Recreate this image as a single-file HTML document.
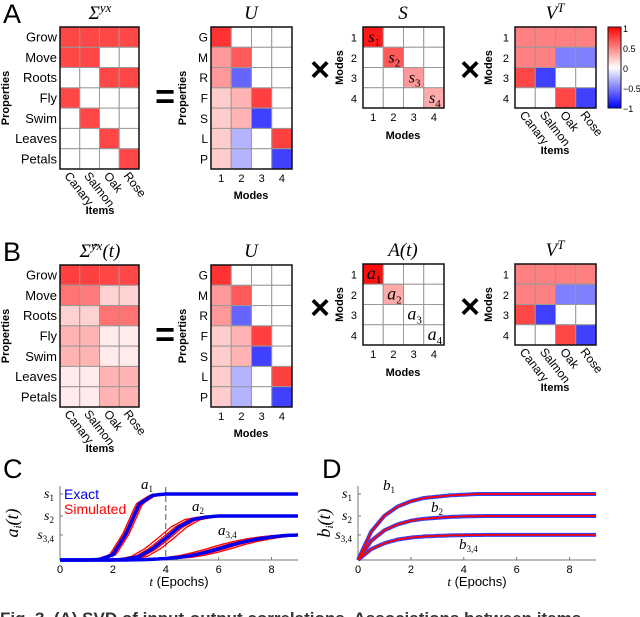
<!DOCTYPE html>
<html><head><meta charset="utf-8">
<style>
html,body{margin:0;padding:0;background:#fff;}
svg{display:block;font-family:"Liberation Sans",sans-serif;}
.ser{font-family:"Liberation Serif",serif;font-style:italic;}
</style></head>
<body>
<svg id="fig" width="640" height="617" viewBox="0 0 640 617" xmlns="http://www.w3.org/2000/svg"></svg>
<script>
// ---------- data ----------
const items = ["Canary","Salmon","Oak","Rose"];
const props = ["Grow","Move","Roots","Fly","Swim","Leaves","Petals"];
const propShort = ["G","M","R","F","S","L","P"];
const modes = ["1","2","3","4"];
const sigmaA = [[.72,.72,.72,.72],[.72,.72,0,0],[0,0,.72,.72],[.72,0,0,0],[0,.72,0,0],[0,0,.72,0],[0,0,0,.72]];
const uMat = [[.8,0,0,0],[.4,.65,0,0],[.4,-.6,0,0],[.2,.3,.75,0],[.2,.3,-.75,0],[.2,-.3,0,.75],[.2,-.3,0,-.75]];
const sDiag = [.9,.65,.4,.33];
const vMat = [[.5,.5,.5,.5],[.5,.5,-.5,-.5],[.72,-.75,0,0],[0,0,.72,-.75]];
const sigmaB = [[.75,.75,.72,.72],[.55,.52,.18,.18],[.18,.18,.55,.55],[.3,.3,.08,.08],[.3,.3,.08,.08],[.08,.08,.3,.3],[.08,.08,.3,.3]];
const aDiag = [.95,.33,0,0];
const cbTicks = ["1","0.5","0","\u22120.5","\u22121"];
// curves (t = 0..9 step 0.5)
const tVals = [0,.5,1,1.5,2,2.5,3,3.5,4,4.5,5,5.5,6,6.5,7,7.5,8,8.5,9];
const levelVals = [1,0.667,0.38];
const a1 = [0,0,0,.01,.08,.4,.85,.98,1,1,1,1,1,1,1,1,1,1,1];
const a2 = [0,0,0,0,0,.013,.055,.17,.33,.5,.61,.65,.667,.667,.667,.667,.667,.667,.667];
const a34 = [0,0,0,0,0,0,.004,.011,.023,.04,.07,.115,.17,.23,.28,.32,.35,.37,.38];
const b1 = [0,.43,.67,.81,.89,.94,.96,.98,.99,1,1,1,1,1,1,1,1,1,1];
const b2 = [0,.29,.45,.54,.595,.625,.64,.653,.66,.665,.667,.667,.667,.667,.667,.667,.667,.667,.667];
const b34 = [0,.165,.255,.31,.34,.357,.366,.372,.376,.379,.38,.38,.38,.38,.38,.38,.38,.38,.38];
const simShifts = [-0.3,-0.15,-0.05,0.05,0.15,0.3];
const simSpread = [0.4,1.0,1.5];
const xTicks = [0,2,4,6,8];

// ---------- helpers ----------
const NS="http://www.w3.org/2000/svg";
const svg=document.getElementById('fig');
function mk(tag,attrs,parent){const e=document.createElementNS(NS,tag);for(const k in attrs)e.setAttribute(k,attrs[k]);(parent||svg).appendChild(e);return e;}
function txt(s,x,y,attrs,parent){const e=mk('text',Object.assign({x:x,y:y},attrs||{}),parent);e.textContent=s;return e;}
function col(v){v=Math.max(-1,Math.min(1,v));if(v>=0){const c=Math.round(255*(1-v));return `rgb(255,${c},${c})`;}const c=Math.round(255*(1+v));return `rgb(${c},${c},255)`;}

function heat(x,y,w,h,mat,name){
  const g=mk('g',{});
  
  
  const R=mat.length,C=mat[0].length,cw=w/C,ch=h/R;
  for(let r=0;r<R;r++)for(let c=0;c<C;c++){
    const cell=mk('rect',{x:x+c*cw,y:y+r*ch,width:cw,height:ch,fill:col(mat[r][c]),stroke:'#999','stroke-width':1},g);
    
    
  }
  mk('rect',{x:x,y:y,width:w,height:h,fill:'none',stroke:'#111','stroke-width':1.5},g);
  return {cw:cw,ch:ch};
}
function rowLabels(labels,xr,y,ch,name,size){
  labels.forEach((l,i)=>{const t=txt(l,xr,y+ch*(i+0.5)+4.5,{'text-anchor':'end','font-size':size||13});
    });
}
function colNums(labels,x,cw,y,name){
  labels.forEach((l,i)=>{const t=txt(l,x+cw*(i+0.5),y,{'text-anchor':'middle','font-size':11});
    });
}
function colRot(labels,x,cw,y,name){
  labels.forEach((l,i)=>{const cx=x+cw*(i+0.5)-6;const t=txt(l,cx,y,{'font-size':12,transform:`rotate(52 ${cx} ${y})`});
    });
}
function vlabel(s,x,y,name){const t=txt(s,x,y,{'text-anchor':'middle','font-size':11,'font-weight':'bold',transform:`rotate(-90 ${x} ${y})`});
  }
function hlabel(s,x,y,name){const t=txt(s,x,y,{'text-anchor':'middle','font-size':11,'font-weight':'bold'});
  }

function diagMat(d){return d.map((v,i)=>d.map((_,j)=>i===j?v:0));}

function row(dy,sigma,isB){
  const sx=60,sy=27+dy,sw=79,sh=142;
  const s=heat(sx,sy,sw,sh,sigma,isB?'sigma-hat-heatmap':'sigma-heatmap');
  rowLabels(props,57,sy,s.ch,'property-label');
  colRot(items,sx,s.cw,sy+sh+7,'item-label');
  vlabel('Properties',9,sy+sh/2,'properties-axis-title');
  hlabel('Items',100,sy+sh+45,'items-axis-title');
  let t;
  if(isB){t=txt('',100,sy-8,{'text-anchor':'middle','font-size':19,'class':'ser'});
    t.innerHTML='\u03A3\u0302<tspan dy="-7" font-size="13">yx</tspan><tspan dy="7">(t)</tspan>';}
  else{t=txt('',100,sy-8,{'text-anchor':'middle','font-size':19,'class':'ser'});
    t.innerHTML='\u03A3<tspan dy="-7" font-size="13">yx</tspan>';}
  
  const eq=txt('=',165,sy+sh/2+10,{'text-anchor':'middle','font-size':34,'font-weight':'bold'});
  
  const ux=211,uw=81;
  const u=heat(ux,sy,uw,sh,uMat,'u-heatmap');
  rowLabels(propShort,208,sy,u.ch,'u-row-label',12);
  colNums(modes,ux,u.cw,sy+sh+13,'u-mode-tick');
  vlabel('Properties',186,sy+sh/2,'u-properties-axis-title');
  hlabel('Modes',251,sy+sh+30,'u-modes-axis-title');
  const ut=txt('U',251,sy-8,{'text-anchor':'middle','font-size':19,'class':'ser'});
  
  const x1=txt('\u00D7',320,sy+54,{'text-anchor':'middle','font-size':34,'font-weight':'bold'});
  
  const mx=363,my=sy-(isB?1:0),mw=81;
  const m=heat(mx,my,mw,mw,diagMat(isB?aDiag:sDiag),isB?'a-heatmap':'s-heatmap');
  rowLabels(modes,357,my,m.ch,'mode-row-label',11);
  colNums(modes,mx,m.cw,my+mw+13,'mode-col-tick');
  vlabel('Modes',343,my+mw/2,'modes-axis-title');
  hlabel('Modes',403,my+mw+31,'modes-axis-title');
  const letter=isB?'a':'s';
  for(let i=0;i<4;i++){
    const l=txt('',mx+m.cw*(i+0.5)+1,my+m.ch*(i+0.5)+5,{'text-anchor':'middle','font-size':isB?18:16,'class':'ser'});
    l.innerHTML=letter+'<tspan dy="4" font-size="11" font-style="normal">'+(i+1)+'</tspan>';
    
  }
  const mt=txt(isB?'A(t)':'S',403,my-8,{'text-anchor':'middle','font-size':19,'class':'ser'});
  
  const x2=txt('\u00D7',470,my+54,{'text-anchor':'middle','font-size':34,'font-weight':'bold'});
  
  const vx=515,vw=81;
  const v=heat(vx,my,vw,vw,vMat,'vt-heatmap');
  rowLabels(modes,509,my,v.ch,'vt-row-label',11);
  colRot(items,vx,v.cw,my+vw+7,'vt-item-label');
  vlabel('Modes',492,my+vw/2,'vt-modes-axis-title');
  hlabel('Items',555,my+vw+46,'vt-items-axis-title');
  const vt=txt('',555,my-8,{'text-anchor':'middle','font-size':19,'class':'ser'});
  vt.innerHTML='V<tspan dy="-7" font-size="13">T</tspan>';
  
  const pl=txt(isB?'B':'A',3,sy-4,{'font-size':27});
  
}
row(0,sigmaA,false);
row(238,sigmaB,true);

// colorbar
const defs=mk('defs',{});
const lg=mk('linearGradient',{id:'cb',x1:0,y1:0,x2:0,y2:1},defs);
[[0,'#ff0000'],[0.5,'#ffffff'],[1,'#0000ff']].forEach(s=>mk('stop',{offset:s[0],'stop-color':s[1]},lg));
const cbr=mk('rect',{x:608,y:27,width:13,height:81,fill:'url(#cb)',stroke:'#111','stroke-width':1});

cbTicks.forEach((s,i)=>{const y=28+i*20;const t=txt(s,623,y+4,{'font-size':9});
  });

// ---------- line charts ----------
const baseY=560, topY=494;
function yS(v){return baseY-(baseY-topY)*v;}
function interp(arr,t){if(t<=0)return arr[0];const f=t/0.5;const i=Math.floor(f);if(i>=arr.length-1)return arr[arr.length-1];return arr[i]+(arr[i+1]-arr[i])*(f-i);}
function pathFor(arr,xS,shift){
  let d='';
  for(let t=0;t<=9.0001;t+=0.1){const v=interp(arr,t-(shift||0));d+=(d?'L':'M')+xS(Math.min(t,9)).toFixed(1)+','+yS(v).toFixed(1);}
  return d;
}
function axes(x0,x9,name){
  const xS=t=>x0+(x9-x0)*t/9;
  const g=mk('g',{});
  mk('line',{x1:x0,y1:486,x2:x0,y2:baseY,stroke:'#777','stroke-width':1},g);
  mk('line',{x1:x0,y1:baseY,x2:x9,y2:baseY,stroke:'#777','stroke-width':1},g);
  xTicks.forEach(v=>{mk('line',{x1:xS(v),y1:baseY,x2:xS(v),y2:baseY-3,stroke:'#777'},g);
    const t=txt(String(v),xS(v),573,{'text-anchor':'middle','font-size':11},g);
    });
  levelVals.forEach(v=>mk('line',{x1:x0,y1:yS(v),x2:x0+3,y2:yS(v),stroke:'#777'},g));
  const lab=[['s','1'],['s','2'],['s','3,4']];
  lab.forEach((l,i)=>{const t=txt('',x0-6,yS(levelVals[i])+4,{'text-anchor':'end','font-size':14,'class':'ser'},g);
    t.innerHTML=l[0]+'<tspan dy="3" font-size="9" font-style="normal">'+l[1]+'</tspan>';
    });
  const xt=txt('',(x0+x9)/2,586,{'text-anchor':'middle','font-size':13},g);
  xt.innerHTML='<tspan font-style="italic" font-family="Liberation Serif">t</tspan> (Epochs)';
  
  return xS;
}
// C
const xC=axes(60,298,'chart-c-axes');
const dl=mk('line',{x1:xC(4),y1:487,x2:xC(4),y2:baseY,stroke:'#555','stroke-width':1,'stroke-dasharray':'6,3'});

[a1,a2,a34].forEach((arr,k)=>{
  simShifts.forEach(s=>{const p=mk('path',{d:pathFor(arr,xC,s*simSpread[k]),fill:'none',stroke:'#f00','stroke-width':1.3});
    });
});
[a1,a2,a34].forEach(arr=>{const p=mk('path',{d:pathFor(arr,xC,0),fill:'none',stroke:'#0000ee','stroke-width':3.5});
  });
const ya=txt('',18,523,{'text-anchor':'middle','font-size':18,'class':'ser',transform:'rotate(-90 18 523)'});
ya.innerHTML='a<tspan dy="3" font-size="11">i</tspan><tspan dy="-3">(t)</tspan>';

const le=txt('Exact',64,499,{'font-size':14,fill:'#0000ee'});
const ls=txt('Simulated',64,514,{'font-size':14,fill:'#f00'});
[['a','1',141,489],['a','2',192,511],['a','3,4',218,535]].forEach(l=>{
  const t=txt('',l[2],l[3],{'font-size':15,'class':'ser'});t.innerHTML=l[0]+'<tspan dy="3" font-size="9" font-style="normal">'+l[1]+'</tspan>';
  });
const pc=txt('C',3,478,{'font-size':27});

// D
const xD=axes(358,596,'chart-d-axes');
[b1,b2,b34].forEach(arr=>{const p=mk('path',{d:pathFor(arr,xD,0),fill:'none',stroke:'#3344ff','stroke-width':4});
  });
[b1,b2,b34].forEach(arr=>{const p=mk('path',{d:pathFor(arr,xD,0),fill:'none',stroke:'#f00','stroke-width':1.8});
  });
const yb=txt('',330,523,{'text-anchor':'middle','font-size':18,'class':'ser',transform:'rotate(-90 330 523)'});
yb.innerHTML='b<tspan dy="3" font-size="11">i</tspan><tspan dy="-3">(t)</tspan>';

[['b','1',383,490],['b','2',431,512],['b','3,4',459,549]].forEach(l=>{
  const t=txt('',l[2],l[3],{'font-size':15,'class':'ser'});t.innerHTML=l[0]+'<tspan dy="3" font-size="9" font-style="normal">'+l[1]+'</tspan>';
  });
const pd=txt('D',322,478,{'font-size':27});

// caption (cut off)
const cap=txt('Fig. 3.   (A) SVD of input-output correlations. Associations between items',0,624,{'font-size':17,'font-weight':'bold','fill':'#333'});

</script>
</body></html>
